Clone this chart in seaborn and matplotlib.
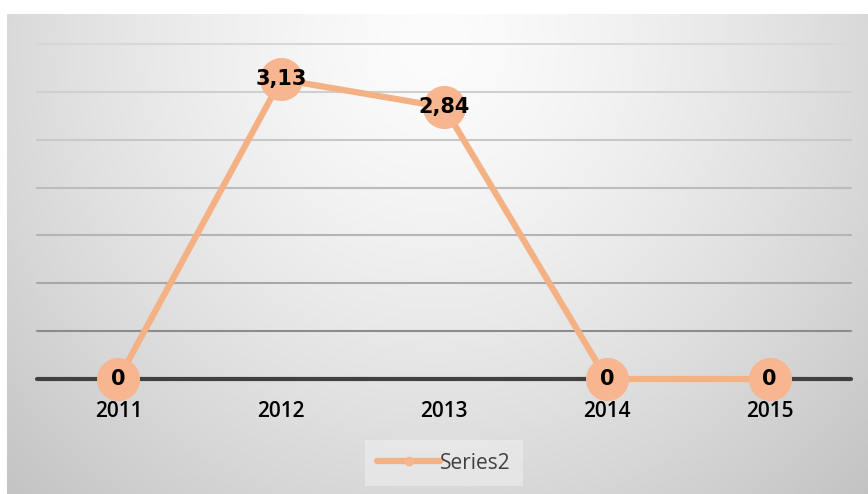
import numpy as np
import pandas as pd
import matplotlib
matplotlib.use("Agg")
import matplotlib.pyplot as plt
from matplotlib.lines import Line2D
import seaborn as sns

years = ["2011", "2012", "2013", "2014", "2015"]
values = [0.0, 3.13, 2.84, 0.0, 0.0]
value_labels = ["0", "3,13", "2,84", "0", "0"]
grid_levels = [0.5, 1.0, 1.5, 2.0, 2.5, 3.0, 3.5]
series_name = "Series2"

LINE_COLOR = "#F4B183"
MARKER_COLOR = "#F7B590"
grid_colors = ["#8c8c8c", "#a8a8a8", "#b4b4b4", "#bcbcbc", "#c8c8c8", "#d0d0d0", "#d8d8d8"]

sns.set_theme(style="white")
plt.rcParams["font.family"] = ["Open Sans", "DejaVu Sans"]

W, H = 868, 494
fig = plt.figure(figsize=(W / 100, H / 100), dpi=100)
fig.patch.set_facecolor("white")

# chart area with a soft radial gradient (light at top centre, grey towards the edges)
bg = fig.add_axes([7 / W, 0, (W - 7) / W, (H - 14) / H])
bg.set_axis_off()
gh, gw = H - 14, W - 7
yy, xx = np.mgrid[0:gh, 0:gw]
t = np.sqrt(((xx - 428) / 680.0) ** 2 + ((yy - 30) / 700.0) ** 2)
shade = 252 - 66 * np.clip(t, 0, 1) ** 1.4
img = np.dstack([shade, shade, shade]).astype(np.uint8)
bg.imshow(img, aspect="auto", extent=[0, 1, 0, 1], interpolation="bilinear")
bg.set_xlim(0, 1)
bg.set_ylim(0, 1)

# plot area
left, right, top, bottom = 37, 851, 44, 379
ax = fig.add_axes([left / W, (H - bottom) / H, (right - left) / W, (bottom - top) / H])
ax.patch.set_alpha(0)

df = pd.DataFrame({"year": years, "value": values})

for lvl, col in zip(grid_levels, grid_colors):
    ax.axhline(lvl, color=col, lw=1.5, zorder=1, clip_on=False)
ax.axhline(0, color="#404040", lw=3.0, zorder=2, clip_on=False)

sns.lineplot(data=df, x="year", y="value", ax=ax, color=LINE_COLOR, lw=4.5,
             marker="o", markersize=31, markerfacecolor=MARKER_COLOR,
             markeredgecolor=MARKER_COLOR, markeredgewidth=0, zorder=3,
             legend=False)
for ln in ax.lines:
    ln.set_clip_on(False)

for i, (v, lab) in enumerate(zip(values, value_labels)):
    ax.text(i, v, lab, ha="center", va="center", fontsize=15, fontweight="bold",
            family="DejaVu Sans", color="black", zorder=5)

ax.set_xlim(-0.5, len(years) - 0.5)
ax.set_ylim(0, 3.5)
ax.set_yticks([])
ax.set_xlabel("")
ax.set_ylabel("")
ax.tick_params(axis="x", length=0, pad=15.5, labelsize=15, labelcolor="black")
for lbl in ax.get_xticklabels():
    lbl.set_fontweight("semibold")
for s in ax.spines.values():
    s.set_visible(False)

handle = Line2D([0], [0], color=LINE_COLOR, lw=4.5, marker="o", markersize=6,
                markerfacecolor=MARKER_COLOR, markeredgecolor=MARKER_COLOR)
leg = fig.legend([handle], [series_name], loc="center",
                 bbox_to_anchor=(444 / W, 1 - 463 / H), frameon=True,
                 fontsize=15, handlelength=3.0, handletextpad=0.0,
                 borderpad=0.6, fancybox=False)
leg.get_frame().set_facecolor("#eeeeee")
leg.get_frame().set_alpha(0.6)
leg.get_frame().set_edgecolor("none")
for txt in leg.get_texts():
    txt.set_color("#404040")

fig.savefig("out.png", dpi=100)
